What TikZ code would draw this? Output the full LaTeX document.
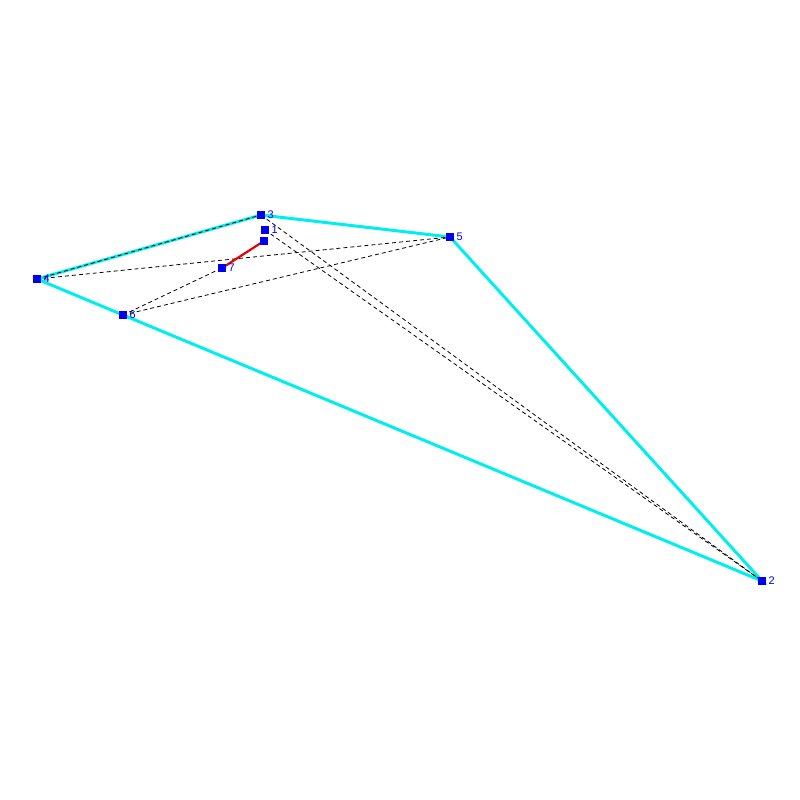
\documentclass[tikz,border=0pt]{standalone}
\usepackage{fontspec}
\setmainfont{Liberation Sans}
\usetikzlibrary{backgrounds}
\definecolor{hullCyan}{RGB}{0,238,238}
\definecolor{ptBlue}{RGB}{0,0,238}
\definecolor{segRed}{RGB}{230,0,0}

\begin{document}
\begin{tikzpicture}[x=1pt,y=-1pt,
      pt/.style={rectangle,fill=ptBlue,minimum size=8pt,inner sep=0pt,
        label={[ptBlue,font=\fontsize{11}{12}\selectfont,label distance=-1pt,anchor=west]right:#1}},
      hull/.style={hullCyan,line width=3pt},
      link/.style={black,line width=0.8pt,dash pattern=on 4pt off 3pt},
      seg/.style={segRed,line width=2.2pt}]
    \useasboundingbox (0,0) rectangle (800,800);
    % points
    \node[pt=1] (p1) at (265,230) {};
    \node[pt=2] (p2) at (762,581) {};
    \node[pt=3] (p3) at (261,215) {};
    \node[pt=4] (p4) at (37,279) {};
    \node[pt=5] (p5) at (450,237) {};
    \node[pt=6] (p6) at (123,315) {};
    \node[pt=7] (p7) at (222,268) {};
    \node[rectangle,fill=ptBlue,minimum size=8pt,inner sep=0pt] (q) at (264,241) {};
    \begin{scope}[on background layer]
      % hull
      \draw[hull] (p4.center) -- (p3.center) -- (p5.center) -- (p2.center) -- (p6.center) -- cycle;
      % dashed links
      \draw[link] (p4.center) -- (p3.center);
      \draw[link] (p4.center) -- (p5.center);
      \draw[link] (p6.center) -- (p5.center);
      \draw[link] (p6.center) -- (p7.center);
      \draw[link] (p3.center) -- (p2.center);
      \draw[link] (p1.center) -- (p2.center);
      % segment
      \draw[seg] (p7.center) -- (q.center);
    \end{scope}
  \end{tikzpicture}
\end{document}
